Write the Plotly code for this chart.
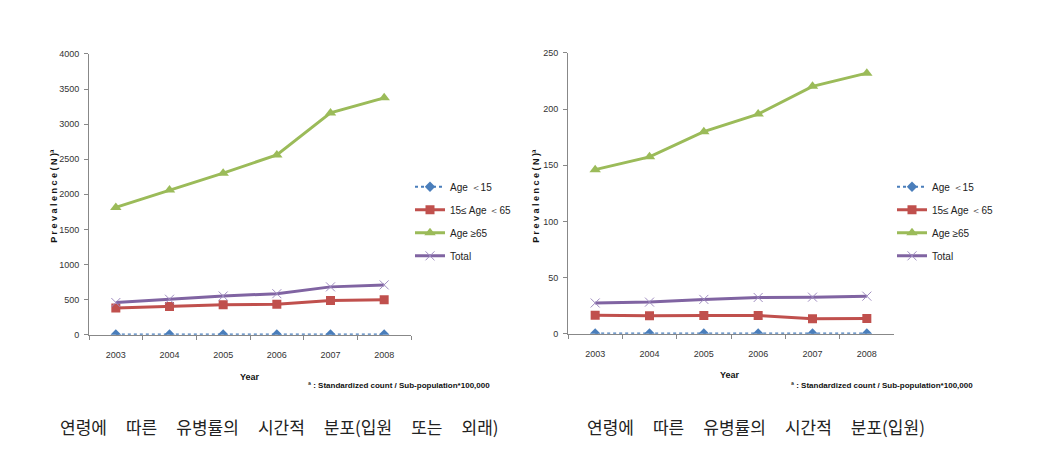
import plotly.graph_objects as go

years = ["2003", "2004", "2005", "2006", "2007", "2008"]
series_names = ["Age ＜15", "15≤ Age ＜65", "Age ≥65", "Total"]

# Left chart: outpatient or inpatient
left_under15 = [3, 3, 3, 3, 3, 3]
left_15to65 = [381, 404, 427, 436, 487, 497]
left_over65 = [1814, 2060, 2302, 2561, 3160, 3374]
left_total = [459, 506, 552, 585, 682, 710]

# Right chart: inpatient
right_under15 = [0.2, 0.2, 0.2, 0.2, 0.2, 0.2]
right_15to65 = [16.6, 16.0, 16.3, 16.3, 13.4, 13.7]
right_over65 = [146.1, 157.5, 179.9, 195.6, 220.3, 232.0]
right_total = [27.4, 28.2, 30.6, 32.3, 32.6, 33.5]

left_ticks = [0, 500, 1000, 1500, 2000, 2500, 3000, 3500, 4000]
right_ticks = [0, 50, 100, 150, 200, 250]

colors = ["#4A7EBB", "#C0504D", "#9BBB59", "#8064A2"]
NARROW = "Liberation Sans Narrow, Arial Narrow, Liberation Sans, sans-serif"
KFONT = "Noto Sans CJK KR, sans-serif"
SP = "\u00a0" * 5

fig = go.Figure()


def add_series(vals, xa, ya, legend):
    styles = [
        dict(line=dict(color=colors[0], width=2, dash="dot"),
             marker=dict(symbol="diamond", size=8, color=colors[0])),
        dict(line=dict(color=colors[1], width=3),
             marker=dict(symbol="square", size=9, color=colors[1])),
        dict(line=dict(color=colors[2], width=3),
             marker=dict(symbol="triangle-up", size=10, color=colors[2])),
        dict(line=dict(color=colors[3], width=3),
             marker=dict(symbol="x-thin", size=9, color="#9F8CC0",
                         line=dict(color="#9F8CC0", width=1))),
    ]
    for i, v in enumerate(vals):
        fig.add_trace(go.Scatter(
            x=years, y=v, name=series_names[i], mode="lines+markers",
            xaxis=xa, yaxis=ya, legend=legend,
            legendgroup=legend + str(i),
            **styles[i]))


add_series([left_under15, left_15to65, left_over65, left_total], "x", "y", "legend")
add_series([right_under15, right_15to65, right_over65, right_total], "x2", "y2", "legend2")

axis_common = dict(showgrid=False, zeroline=False, showline=True,
                   linecolor="#888888", linewidth=1, ticks="outside",
                   tickcolor="#888888", ticklen=4,
                   tickfont=dict(family=NARROW, size=9, color="#333333"))

fig.update_layout(
    width=1044, height=465,
    margin=dict(l=0, r=0, t=0, b=0),
    paper_bgcolor="white", plot_bgcolor="white",
    showlegend=True,
    xaxis=dict(domain=[89/1044, 411/1044], type="category", range=[-0.5, 5.5],
               tickson="boundaries", anchor="y", ticklabelstandoff=11, **axis_common),
    yaxis=dict(domain=[128/465, 415/465], range=[0, 4000], tickvals=left_ticks,
               anchor="x", ticklabelstandoff=3, **axis_common),
    xaxis2=dict(domain=[568/1044, 894/1044], type="category", range=[-0.5, 5.5],
                tickson="boundaries", anchor="y2", ticklabelstandoff=11, **axis_common),
    yaxis2=dict(domain=[129/465, 416/465], range=[0, 250], tickvals=right_ticks,
                anchor="x2", ticklabelstandoff=3, **axis_common),
    legend=dict(x=410/1044, y=(465-171)/465, xanchor="left", yanchor="top",
                font=dict(family=NARROW, size=10, color="#222222"),
                tracegroupgap=4, itemwidth=30, bgcolor="rgba(0,0,0,0)"),
    legend2=dict(x=892/1044, y=(465-171)/465, xanchor="left", yanchor="top",
                 font=dict(family=NARROW, size=10, color="#222222"),
                 tracegroupgap=4, itemwidth=30, bgcolor="rgba(0,0,0,0)"),
)

annotations = [
    dict(text="<b>P r e v a l e n c e ( N )ª</b>", x=54/1044, y=(465-195)/465,
         textangle=-90, font=dict(family=NARROW, size=9, color="#111111")),
    dict(text="<b>P r e v a l e n c e ( N )ª</b>", x=536/1044, y=(465-195)/465,
         textangle=-90, font=dict(family=NARROW, size=9, color="#111111")),
    dict(text="<b>Year</b>", x=250/1044, y=(465-380)/465,
         font=dict(family=NARROW, size=9, color="#111111")),
    dict(text="<b>Year</b>", x=730/1044, y=(465-378)/465,
         font=dict(family=NARROW, size=9, color="#111111")),
    dict(text="<b>ª : Standardized count / Sub-population*100,000</b>", x=306/1044,
         y=(465-389)/465, xanchor="left",
         font=dict(family=NARROW, size=8, color="#111111")),
    dict(text="<b>ª : Standardized count / Sub-population*100,000</b>", x=789/1044,
         y=(465-389)/465, xanchor="left",
         font=dict(family=NARROW, size=8, color="#111111")),
    dict(text=SP.join(["연령에", "따른", "유병률의", "시간적", "분포(입원", "또는", "외래)"]),
         x=58/1044, y=(465-431)/465, xanchor="left",
         font=dict(family=KFONT, size=17, color="#222222")),
    dict(text=SP.join(["연령에", "따른", "유병률의", "시간적", "분포(입원)"]),
         x=585/1044, y=(465-431)/465, xanchor="left",
         font=dict(family=KFONT, size=17, color="#222222")),
]
for a in annotations:
    a.setdefault("xanchor", "center")
    a.update(xref="paper", yref="paper", showarrow=False, yanchor="middle")
fig.update_layout(annotations=annotations)

fig.write_html(
    "out.html",
    config={"displayModeBar": False},
    post_script="document.body.style.margin='0';document.body.style.overflow='hidden';",
)
